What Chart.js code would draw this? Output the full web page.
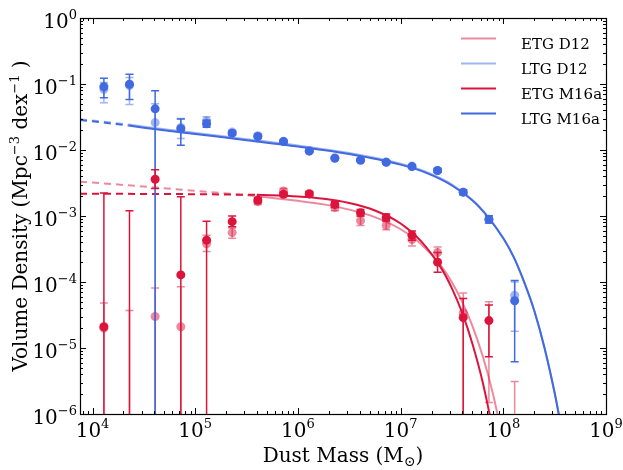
<!DOCTYPE html>
<html>
<head>
<meta charset="utf-8">
<title>Dust mass function</title>
<script src="https://cdn.jsdelivr.net/npm/chart.js@4.4.0/dist/chart.umd.min.js"></script>
<style>
    html, body { margin: 0; padding: 0; background: #ffffff; }
    #wrap { width: 623px; height: 470px; }
</style>
</head>
<body>
<div id="wrap"><canvas id="dmf-chart" width="623" height="470"></canvas></div>
<script>
// bin centres (dust mass, Msun)
const BIN_MASS = [1.29e4, 2.29e4, 4.07e4, 7.24e4, 1.29e5, 2.29e5, 4.07e5, 7.24e5, 1.29e6,
                  2.29e6, 4.07e6, 7.24e6, 1.29e7, 2.29e7, 4.07e7, 7.24e7, 1.29e8];

// binned volume densities, null = below the plot; error bar ends, null low end = runs off the axis
const ETG_D12    = [2.0e-5, null, 3.0e-5, 2.1e-5, 3.8e-4, 5.6e-4, 1.65e-3, 2.4e-3, 2.2e-3, 1.35e-3, 8.5e-4, 7.2e-4, 4.4e-4, 2.8e-4, 3.4e-5, null, null];
const ETG_D12_LO = [null, null, null, null, 2.9e-4, 4.6e-4, 1.5e-3, 2.2e-3, 2.05e-3, 1.2e-3, 7.2e-4, 6.2e-4, 3.5e-4, 2.2e-4, null, 1.5e-6, null];
const ETG_D12_HI = [4.8e-5, 3.7e-5, 8.1e-5, 8.5e-5, 5.1e-4, 6.6e-4, 1.8e-3, 2.6e-3, 2.35e-3, 1.5e-3, 1.0e-3, 8.4e-4, 5.2e-4, 3.4e-4, 6.8e-5, 5.0e-5, 3.1e-6];

const LTG_D12    = [0.083, 0.095, 0.026, 0.022, 0.0275, 0.0187, 0.0165, 0.0136, 0.0098, 0.0076, 0.0071, 0.0066, 0.0057, 0.0049, 0.0023, 0.00088, 6.3e-5];
const LTG_D12_LO = [0.052, 0.049, null, 0.015, 0.0235, 0.0172, 0.0155, 0.013, 0.0094, 0.0073, 0.0068, 0.0063, 0.0054, 0.0046, 0.0021, 0.00078, 1.8e-5];
const LTG_D12_HI = [0.105, 0.126, 0.05, 0.030, 0.0318, 0.020, 0.0175, 0.0142, 0.0102, 0.0079, 0.0074, 0.0069, 0.006, 0.0052, 0.0025, 0.001, 1.0e-4];

const ETG_M16A    = [2.1e-5, null, 3.6e-3, 1.28e-4, 4.3e-4, 8.2e-4, 1.74e-3, 2.13e-3, 2.16e-3, 1.5e-3, 1.12e-3, 9.5e-4, 5.1e-4, 2.0e-4, 2.9e-5, 2.6e-5, null];
const ETG_M16A_LO = [null, null, 2.6e-3, null, null, 6.9e-4, 1.6e-3, 1.98e-3, 2.0e-3, 1.35e-3, 1.0e-3, 8.4e-4, 4.3e-4, 1.4e-4, null, 7.4e-6, null];
const ETG_M16A_HI = [2.24e-3, 1.2e-3, 5.0e-3, 1.95e-3, 8.3e-4, 1.0e-3, 1.9e-3, 2.3e-3, 2.33e-3, 1.66e-3, 1.25e-3, 1.07e-3, 5.9e-4, 2.8e-4, 5.6e-5, 4.5e-5, null];

const LTG_M16A    = [0.091, 0.099, 0.042, 0.021, 0.025, 0.018, 0.016, 0.0134, 0.0096, 0.0075, 0.0070, 0.0065, 0.0056, 0.0049, 0.0023, 0.00089, 5.2e-5];
const LTG_M16A_LO = [0.062, 0.058, null, 0.0118, 0.0222, 0.0168, 0.0152, 0.0128, 0.0092, 0.0072, 0.0067, 0.0062, 0.0053, 0.0046, 0.0021, 0.00078, 6.2e-6];
const LTG_M16A_HI = [0.122, 0.140, 0.079, 0.0295, 0.0282, 0.0193, 0.0168, 0.014, 0.010, 0.0078, 0.0073, 0.0068, 0.0059, 0.0052, 0.0025, 0.00101, 1.05e-4];

// fitted mass functions (dashed = extrapolation)
const ETG_DASH_X     = [7550, 1.0e4, 3.16e4, 1.0e5, 3.98e5];
const ETG_D12_DASH   = [3.31e-3, 3.21e-3, 2.79e-3, 2.41e-3, 2.0e-3];
const ETG_M16A_DASH  = [2.17e-3, 2.17e-3, 2.16e-3, 2.14e-3, 2.09e-3];
const ETG_CURVE_X    = [3.98e5, 1.0e6, 1.78e6, 3.16e6, 5.62e6, 1.0e7, 1.58e7, 2.51e7, 3.16e7, 3.98e7, 5.01e7, 6.31e7, 7.94e7, 1.0e8];
const ETG_D12_CURVE  = [2.0e-3, 1.70e-3, 1.50e-3, 1.25e-3, 9.6e-4, 6.3e-4, 3.76e-4, 1.71e-4, 9.9e-5, 5.0e-5, 2.15e-5, 7.5e-6, 2.0e-6, 3.8e-7];
const ETG_M16A_CURVE = [2.09e-3, 1.97e-3, 1.82e-3, 1.57e-3, 1.21e-3, 7.7e-4, 4.16e-4, 1.58e-4, 8.0e-5, 3.4e-5, 1.15e-5, 3.0e-6, 5.3e-7, 6e-8];

const LTG_DASH_X     = [7550, 1.0e4, 2.24e4];
const LTG_D12_DASH   = [0.0293, 0.0280, 0.0243];
const LTG_M16A_DASH  = [0.0285, 0.0272, 0.0235];
const LTG_CURVE_X    = [2.24e4, 3.16e4, 1.0e5, 3.16e5, 1.0e6, 3.16e6, 1.0e7, 1.78e7, 3.16e7, 5.62e7, 1.0e8, 1.26e8, 1.58e8, 2.0e8, 2.51e8, 3.16e8, 3.55e8, 3.98e8];
const LTG_D12_CURVE  = [0.0243, 0.0225, 0.0181, 0.0146, 0.0117, 0.0090, 0.0062, 0.00465, 0.0030, 0.00148, 4.6e-4, 2.4e-4, 1.04e-4, 3.7e-5, 1.03e-5, 2.1e-6, 8.1e-7, 2.8e-7];
const LTG_M16A_CURVE = [0.0235, 0.0218, 0.0175, 0.0141, 0.0113, 0.0087, 0.0060, 0.0045, 0.0029, 0.00145, 4.6e-4, 2.4e-4, 1.04e-4, 3.7e-5, 1.03e-5, 2.1e-6, 8.1e-7, 2.8e-7];

// axes
const X_MIN = 7550, X_MAX = 1e9;
const Y_MIN = 1e-6, Y_MAX = 1;
const X_TICKS = [1e4, 1e5, 1e6, 1e7, 1e8, 1e9];
const X_TICK_EXP = ["4", "5", "6", "7", "8", "9"];
const Y_TICKS = [1, 1e-1, 1e-2, 1e-3, 1e-4, 1e-5, 1e-6];
const Y_TICK_EXP = ["0", "\u22121", "\u22122", "\u22123", "\u22124", "\u22125", "\u22126"];

const LEGEND_LABELS = ["ETG D12", "LTG D12", "ETG M16a", "LTG M16a"];

const CRIMSON = "rgb(220,20,60)";
const ROYAL   = "rgb(65,105,225)";
const CRIMSON_LIGHT = "rgba(220,20,60,0.5)";
const ROYAL_LIGHT   = "rgba(65,105,225,0.5)";
const LEGEND_COLORS = [CRIMSON_LIGHT, ROYAL_LIGHT, CRIMSON, ROYAL];

const FONT = "'DejaVu Serif', serif";

function pts(xs, ys)
{
    return xs.map((x, i) => ({ x: x, y: ys[i] }));
}

function curve(xs, ys, color, dashed, order)
{
    return {
        data: pts(xs, ys),
        showLine: true,
        borderColor: color,
        borderWidth: 2,
        borderDash: dashed ? [7, 5] : [],
        pointRadius: 0,
        cubicInterpolationMode: "monotone",
        fill: false,
        order: order
    };
}

function markers(vals, lo, hi, color, order)
{
    return {
        data: pts(BIN_MASS, vals),
        showLine: false,
        pointRadius: 4.5,
        pointBorderWidth: 0,
        backgroundColor: color,
        borderColor: color,
        errLo: lo,
        errHi: hi,
        order: order
    };
}

const errorBars = {
    id: "errorBars",
    beforeDatasetDraw(chart, args)
    {
        const ds = chart.data.datasets[args.index];
        if (!ds.errHi) return;
        const ctx = chart.ctx, area = chart.chartArea;
        const xs = chart.scales.x, ys = chart.scales.y;
        ctx.save();
        ctx.beginPath();
        ctx.rect(area.left, area.top, area.right - area.left, area.bottom - area.top);
        ctx.clip();
        ctx.strokeStyle = ds.backgroundColor;
        ctx.lineWidth = 1.5;
        BIN_MASS.forEach((m, i) => {
            const hi = ds.errHi[i];
            if (hi == null) return;
            const lo = ds.errLo[i];
            const px = xs.getPixelForValue(m);
            const top = ys.getPixelForValue(hi);
            const bot = lo == null ? area.bottom + 10 : ys.getPixelForValue(lo);
            ctx.beginPath();
            ctx.moveTo(px, top);
            ctx.lineTo(px, bot);
            ctx.moveTo(px - 4, top);
            ctx.lineTo(px + 4, top);
            if (lo != null)
            {
                ctx.moveTo(px - 4, bot);
                ctx.lineTo(px + 4, bot);
            }
            ctx.stroke();
        });
        ctx.restore();
    }
};

function minorValues(min, max)
{
    const out = [];
    for (let d = Math.floor(Math.log10(min)); d <= Math.ceil(Math.log10(max)); d++)
    {
        for (let k = 2; k <= 9; k++)
        {
            const v = k * Math.pow(10, d);
            if (v > min && v < max) out.push(v);
        }
    }
    return out;
}

const axesDecor = {
    id: "axesDecor",
    afterDraw(chart)
    {
        const ctx = chart.ctx, a = chart.chartArea;
        const xs = chart.scales.x, ys = chart.scales.y;
        ctx.save();

        // inward ticks on all four sides
        ctx.strokeStyle = "#000";
        ctx.lineWidth = 1;
        const tick = (v, len, horiz) => {
            if (horiz)
            {
                const px = Math.round(xs.getPixelForValue(v)) + 0.5;
                ctx.moveTo(px, a.bottom); ctx.lineTo(px, a.bottom - len);
                ctx.moveTo(px, a.top);    ctx.lineTo(px, a.top + len);
            }
            else
            {
                const py = Math.round(ys.getPixelForValue(v)) + 0.5;
                ctx.moveTo(a.left, py);  ctx.lineTo(a.left + len, py);
                ctx.moveTo(a.right, py); ctx.lineTo(a.right - len, py);
            }
        };
        ctx.beginPath();
        X_TICKS.forEach(v => tick(v, 6, true));
        minorValues(X_MIN, X_MAX).forEach(v => tick(v, 3, true));
        Y_TICKS.forEach(v => tick(v, 6, false));
        minorValues(Y_MIN, Y_MAX).forEach(v => tick(v, 3, false));
        ctx.stroke();

        // frame
        ctx.lineWidth = 1.2;
        ctx.strokeRect(Math.round(a.left) + 0.5, Math.round(a.top) + 0.5,
                       Math.round(a.right - a.left), Math.round(a.bottom - a.top));

        // tick labels 10^n
        ctx.fillStyle = "#000";
        ctx.textBaseline = "alphabetic";
        ctx.textAlign = "left";
        const big = "20px " + FONT, small = "13px " + FONT;
        X_TICKS.forEach((v, i) => {
            ctx.font = big;
            const w1 = ctx.measureText("10").width;
            ctx.font = small;
            const w2 = ctx.measureText(X_TICK_EXP[i]).width;
            const x0 = xs.getPixelForValue(v) - (w1 + w2) / 2;
            ctx.font = big;
            ctx.fillText("10", x0, a.bottom + 23);
            ctx.font = small;
            ctx.fillText(X_TICK_EXP[i], x0 + w1, a.bottom + 14);
        });
        Y_TICKS.forEach((v, i) => {
            ctx.font = big;
            const w1 = ctx.measureText("10").width;
            ctx.font = small;
            const w2 = ctx.measureText(Y_TICK_EXP[i]).width;
            const x0 = a.left - 3 - w1 - w2;
            const py = ys.getPixelForValue(v);
            ctx.font = big;
            ctx.fillText("10", x0, py + 10);
            ctx.font = small;
            ctx.fillText(Y_TICK_EXP[i], x0 + w1, py + 1);
        });

        // x title
        ctx.font = big;
        const tA = "Dust Mass (M", tC = ")";
        const wA = ctx.measureText(tA).width, wC = ctx.measureText(tC).width;
        ctx.font = "14px " + FONT;
        const wB = ctx.measureText("\u2299").width;
        let x0 = (a.left + a.right) / 2 - (wA + wB + wC) / 2;
        const by = a.bottom + 48;
        ctx.font = big;
        ctx.fillText(tA, x0, by);
        ctx.font = "14px " + FONT;
        ctx.fillText("\u2299", x0 + wA, by + 4);
        ctx.font = big;
        ctx.fillText(tC, x0 + wA + wB, by);

        // y title, rotated
        const parts = [
            ["Volume Density (Mpc", big, 0],
            ["\u22123", small, -8],
            [" dex", big, 0],
            ["\u22121", small, -8],
            [" )", big, 0]
        ];
        let total = 0;
        parts.forEach(p => { ctx.font = p[1]; p.push(ctx.measureText(p[0]).width); total += p[3]; });
        ctx.save();
        ctx.translate(27, (a.top + a.bottom) / 2);
        ctx.rotate(-Math.PI / 2);
        let cx = -total / 2;
        parts.forEach(p => {
            ctx.font = p[1];
            ctx.fillText(p[0], cx, p[2]);
            cx += p[3];
        });
        ctx.restore();

        // legend
        ctx.font = "15px " + FONT;
        LEGEND_LABELS.forEach((label, i) => {
            const y = 38.5 + 25 * i;
            ctx.strokeStyle = LEGEND_COLORS[i];
            ctx.lineWidth = 2;
            ctx.beginPath();
            ctx.moveTo(461, y);
            ctx.lineTo(496, y);
            ctx.stroke();
            ctx.fillText(label, 521, y + 10);
        });

        ctx.restore();
    }
};

const datasets = [
    markers(ETG_M16A, ETG_M16A_LO, ETG_M16A_HI, CRIMSON, 1),
    markers(LTG_M16A, LTG_M16A_LO, LTG_M16A_HI, ROYAL, 2),
    markers(ETG_D12, ETG_D12_LO, ETG_D12_HI, CRIMSON_LIGHT, 3),
    markers(LTG_D12, LTG_D12_LO, LTG_D12_HI, ROYAL_LIGHT, 4),
    curve(LTG_CURVE_X, LTG_M16A_CURVE, ROYAL, false, 5),
    curve(LTG_DASH_X, LTG_M16A_DASH, ROYAL, true, 5),
    curve(ETG_CURVE_X, ETG_M16A_CURVE, CRIMSON, false, 6),
    curve(ETG_DASH_X, ETG_M16A_DASH, CRIMSON, true, 6),
    curve(LTG_CURVE_X, LTG_D12_CURVE, ROYAL_LIGHT, false, 7),
    curve(LTG_DASH_X, LTG_D12_DASH, ROYAL_LIGHT, true, 7),
    curve(ETG_CURVE_X, ETG_D12_CURVE, CRIMSON_LIGHT, false, 8),
    curve(ETG_DASH_X, ETG_D12_DASH, CRIMSON_LIGHT, true, 8)
];

new Chart(document.getElementById("dmf-chart").getContext("2d"), {
    type: "scatter",
    data: { datasets: datasets },
    options: {
        responsive: false,
        animation: false,
        devicePixelRatio: 1,
        layout: { padding: { left: 80, right: 17, top: 18, bottom: 56 } },
        plugins: {
            legend: { display: false },
            tooltip: { enabled: false }
        },
        scales: {
            x: { type: "logarithmic", min: X_MIN, max: X_MAX, display: false },
            y: { type: "logarithmic", min: Y_MIN, max: Y_MAX, display: false }
        }
    },
    plugins: [errorBars, axesDecor]
});
</script>
</body>
</html>
